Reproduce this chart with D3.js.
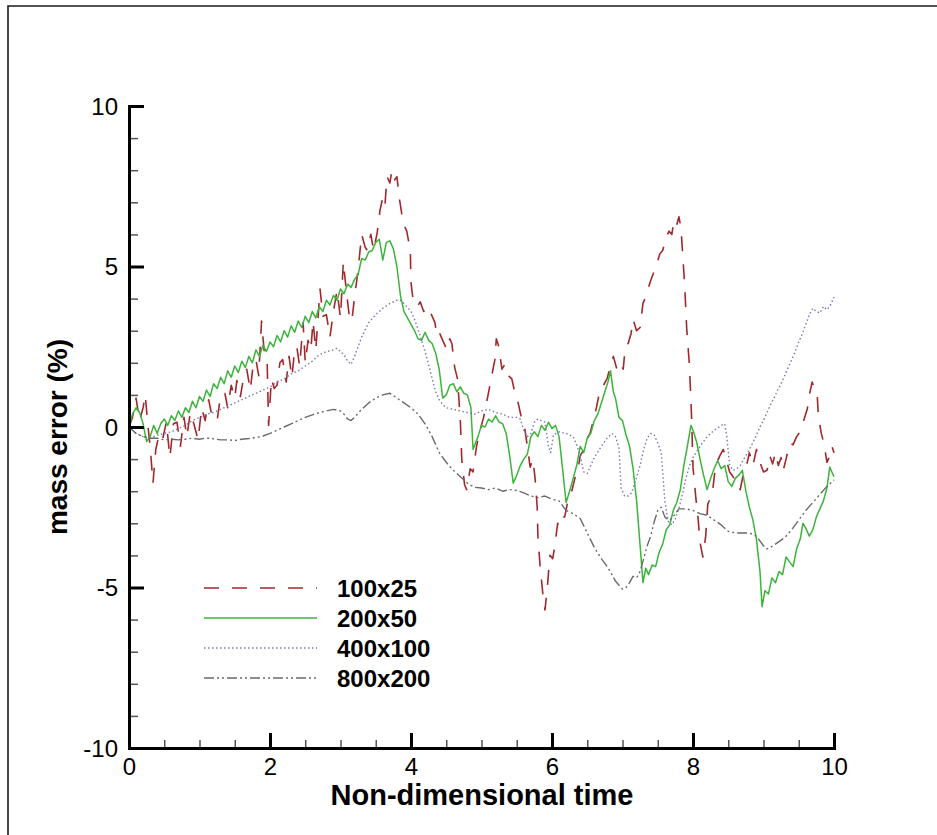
<!DOCTYPE html>
<html><head><meta charset="utf-8">
<script src="https://cdn.jsdelivr.net/npm/d3@7"></script>
<style>body{margin:0;background:#fff}svg{display:block}</style>
</head><body>
<svg id="c" width="937" height="835"></svg>
<script>
// ---------- data ----------
const seriesNames = ["100x25", "200x50", "400x100", "800x200"];
const xTickValues = [0, 2, 4, 6, 8, 10];
const yTickValues = [-10, -5, 0, 5, 10];
const xTitle = "Non-dimensional time";
const yTitle = "mass error (%)";

const s100x25 = [[0,0],[0.05,0.3],[0.1,0.9],[0.15,0.2],[0.2,0.6],[0.23,1.0],[0.27,0.0],[0.3,-0.6],[0.34,-1.75],[0.38,-0.7],[0.43,-0.2],[0.48,-0.35],[0.53,0.15],[0.58,-0.95],[0.63,0.1],[0.68,0.15],[0.73,-0.6],[0.78,0.3],[0.82,-0.3],[0.87,0.45],[0.92,0.1],[0.98,-0.4],[1.03,0.6],[1.08,0.2],[1.13,0.85],[1.18,0.3],[1.25,0.2],[1.3,1.0],[1.36,1.05],[1.4,0.6],[1.45,1.3],[1.5,0.9],[1.53,1.45],[1.58,0.95],[1.63,1.6],[1.67,1.8],[1.72,1.15],[1.76,1.9],[1.8,2.1],[1.84,1.6],[1.88,3.3],[1.92,2.3],[1.96,2.0],[1.98,0.05],[2.02,1.5],[2.06,1.2],[2.1,1.3],[2.14,2.0],[2.18,2.1],[2.23,1.4],[2.27,2.2],[2.31,1.55],[2.35,2.4],[2.38,2.5],[2.42,1.9],[2.47,3.25],[2.5,2.0],[2.54,2.7],[2.58,2.4],[2.61,3.3],[2.65,2.4],[2.71,4.3],[2.75,3.45],[2.8,3.5],[2.85,2.8],[2.9,3.6],[2.95,4.25],[3.0,3.4],[3.04,5.15],[3.08,4.3],[3.13,3.35],[3.16,3.3],[3.2,4.05],[3.25,4.9],[3.3,6.0],[3.35,5.6],[3.38,5.5],[3.43,6.0],[3.47,5.5],[3.52,6.05],[3.56,6.75],[3.6,7.15],[3.63,6.9],[3.66,7.8],[3.7,7.6],[3.73,8.0],[3.77,7.7],[3.8,7.8],[3.84,7.05],[3.89,6.35],[3.94,6.1],[3.99,5.5],[4.0,4.5],[4.03,3.95],[4.09,3.75],[4.13,3.9],[4.18,3.6],[4.24,3.75],[4.29,3.5],[4.34,3.25],[4.37,2.8],[4.41,2.9],[4.45,2.7],[4.51,2.4],[4.55,2.75],[4.58,2.6],[4.62,1.85],[4.66,1.5],[4.7,0.2],[4.72,-1.0],[4.76,-1.8],[4.79,-1.95],[4.84,-1.3],[4.88,-1.4],[4.93,-0.6],[4.98,-0.1],[5.03,0.3],[5.08,0.85],[5.12,1.3],[5.15,1.65],[5.19,2.1],[5.21,2.75],[5.24,2.55],[5.29,1.8],[5.33,1.95],[5.38,1.6],[5.43,1.5],[5.48,1.0],[5.52,0.75],[5.56,0.35],[5.6,0.15],[5.65,-0.6],[5.69,-1.25],[5.73,-1.0],[5.76,-1.6],[5.79,-2.5],[5.8,-3.4],[5.83,-4.3],[5.87,-5.2],[5.9,-5.7],[5.93,-5.1],[5.97,-4.0],[6.01,-4.1],[6.04,-3.7],[6.08,-3.0],[6.11,-3.1],[6.15,-2.8],[6.18,-2.8],[6.23,-2.25],[6.28,-2.0],[6.33,-1.55],[6.37,-1.3],[6.4,-0.9],[6.45,-0.7],[6.5,-0.35],[6.54,-0.2],[6.58,0.15],[6.63,0.6],[6.68,1.15],[6.73,1.3],[6.78,1.5],[6.83,1.9],[6.87,2.2],[6.92,1.8],[6.96,2.0],[7.01,1.8],[7.04,2.5],[7.08,2.6],[7.12,2.9],[7.15,3.35],[7.2,3.0],[7.25,3.1],[7.29,3.85],[7.34,4.1],[7.39,4.5],[7.44,4.8],[7.49,5.1],[7.53,5.4],[7.57,5.5],[7.62,5.9],[7.66,6.1],[7.7,6.0],[7.73,6.45],[7.77,6.3],[7.8,6.55],[7.83,6.2],[7.85,5.5],[7.88,4.5],[7.91,3.1],[7.95,1.9],[7.98,0.3],[8.0,-1.25],[8.04,-2.2],[8.07,-2.8],[8.1,-3.6],[8.14,-4.05],[8.18,-3.4],[8.21,-2.4],[8.25,-2.2],[8.28,-1.95],[8.31,-1.4],[8.34,-1.1],[8.38,-0.9],[8.43,-0.7],[8.47,-1.0],[8.52,-1.4],[8.57,-1.55],[8.62,-1.9],[8.67,-1.95],[8.72,-1.4],[8.77,-1.1],[8.8,-0.8],[8.85,-1.2],[8.9,-0.7],[8.95,-1.1],[9.0,-1.4],[9.05,-1.35],[9.09,-0.9],[9.13,-1.15],[9.17,-0.8],[9.21,-1.2],[9.25,-0.95],[9.28,-1.35],[9.32,-1.0],[9.37,-0.5],[9.42,-0.55],[9.47,-0.3],[9.52,-0.15],[9.57,0.2],[9.62,0.55],[9.66,1.1],[9.69,1.4],[9.72,1.2],[9.76,1.05],[9.78,0.3],[9.82,-0.2],[9.86,-0.55],[9.9,-1.1],[9.94,-0.9],[9.97,-0.6],[10.0,-0.8]];

const s200x50 = [[0,0],[0.05,0.4],[0.1,0.6],[0.15,0.45],[0.2,0.1],[0.25,-0.45],[0.3,-0.3],[0.35,0.05],[0.4,-0.2],[0.45,0.1],[0.5,0.25],[0.55,0.05],[0.6,0.35],[0.65,0.2],[0.7,0.5],[0.75,0.3],[0.8,0.6],[0.85,0.45],[0.9,0.8],[0.95,0.6],[1.0,0.95],[1.05,0.8],[1.1,1.15],[1.15,0.95],[1.2,1.35],[1.25,1.2],[1.3,1.55],[1.35,1.35],[1.4,1.75],[1.45,1.55],[1.5,1.9],[1.55,1.7],[1.6,2.05],[1.65,1.85],[1.7,2.2],[1.75,2.0],[1.8,2.4],[1.85,2.2],[1.9,2.55],[1.95,2.35],[2.0,2.65],[2.05,2.5],[2.1,2.85],[2.15,2.65],[2.2,3.0],[2.25,2.8],[2.3,3.15],[2.35,2.95],[2.4,3.3],[2.45,3.1],[2.5,3.45],[2.55,3.25],[2.6,3.6],[2.65,3.4],[2.7,3.75],[2.75,3.6],[2.8,3.95],[2.85,3.8],[2.9,4.1],[2.95,3.95],[3.0,4.3],[3.05,4.15],[3.1,4.45],[3.15,4.35],[3.2,4.6],[3.25,4.75],[3.3,5.25],[3.35,5.2],[3.4,5.45],[3.45,5.5],[3.5,5.75],[3.55,5.85],[3.6,5.2],[3.65,5.75],[3.7,5.8],[3.75,5.55],[3.8,5.0],[3.85,4.1],[3.9,3.6],[3.95,3.4],[4.0,3.2],[4.05,3.0],[4.1,2.75],[4.15,2.7],[4.2,2.95],[4.25,2.7],[4.3,2.6],[4.35,2.3],[4.4,1.8],[4.45,0.9],[4.5,1.0],[4.55,1.3],[4.6,1.35],[4.65,1.1],[4.7,1.25],[4.75,1.05],[4.8,1.0],[4.85,0.6],[4.88,-0.7],[4.95,-0.3],[5.0,0.05],[5.05,0.0],[5.1,0.25],[5.15,0.15],[5.2,0.35],[5.25,0.15],[5.3,0.1],[5.35,-0.2],[5.4,-0.9],[5.45,-1.75],[5.5,-1.5],[5.55,-1.2],[5.6,-1.0],[5.65,-0.85],[5.7,-0.3],[5.75,-0.15],[5.8,-0.3],[5.85,0.05],[5.9,-0.1],[5.95,0.15],[6.0,-0.05],[6.05,0.05],[6.1,-0.3],[6.15,-1.3],[6.2,-2.35],[6.25,-2.0],[6.3,-1.6],[6.35,-1.2],[6.4,-0.6],[6.45,-0.8],[6.5,-0.35],[6.55,-0.2],[6.6,0.2],[6.65,0.4],[6.7,0.75],[6.75,1.1],[6.8,1.45],[6.83,1.75],[6.87,1.1],[6.9,0.9],[6.95,0.3],[7.0,0.2],[7.05,-0.25],[7.1,-0.6],[7.15,-1.3],[7.2,-2.3],[7.25,-3.7],[7.29,-4.85],[7.33,-4.4],[7.37,-4.6],[7.42,-4.3],[7.47,-4.35],[7.52,-3.9],[7.57,-3.65],[7.62,-3.2],[7.67,-3.05],[7.72,-2.6],[7.77,-2.35],[7.82,-1.95],[7.87,-1.2],[7.92,-0.6],[7.97,0.05],[8.0,-0.1],[8.05,-0.45],[8.1,-1.0],[8.15,-1.5],[8.2,-1.95],[8.25,-1.6],[8.3,-1.3],[8.35,-1.05],[8.4,-1.3],[8.45,-1.2],[8.5,-1.7],[8.55,-1.85],[8.6,-1.6],[8.65,-1.5],[8.7,-1.35],[8.75,-2.0],[8.8,-2.5],[8.85,-2.9],[8.9,-3.5],[8.95,-4.5],[8.98,-5.6],[9.02,-5.1],[9.07,-5.2],[9.12,-4.7],[9.17,-4.85],[9.22,-4.5],[9.27,-4.6],[9.32,-4.05],[9.37,-4.2],[9.42,-4.35],[9.47,-3.8],[9.52,-3.5],[9.56,-3.0],[9.6,-3.15],[9.65,-3.4],[9.7,-3.2],[9.75,-2.8],[9.8,-2.55],[9.85,-2.3],[9.9,-1.9],[9.94,-1.25],[9.97,-1.4],[10.0,-1.55]];

const s400x100 = [[0,0],[0.05,-0.1],[0.1,-0.2],[0.2,-0.3],[0.3,-0.35],[0.4,-0.25],[0.5,-0.2],[0.6,-0.15],[0.7,-0.05],[0.8,0.05],[0.9,0.2],[1.0,0.3],[1.1,0.4],[1.2,0.45],[1.3,0.55],[1.4,0.65],[1.5,0.75],[1.6,0.85],[1.7,0.95],[1.8,1.05],[1.9,1.15],[2.0,1.25],[2.1,1.4],[2.2,1.5],[2.3,1.65],[2.4,1.75],[2.5,1.9],[2.6,2.05],[2.7,2.25],[2.8,2.35],[2.9,2.4],[2.95,2.45],[3.0,2.35],[3.05,2.25],[3.1,2.05],[3.15,1.95],[3.2,2.2],[3.3,2.8],[3.4,3.25],[3.5,3.5],[3.6,3.7],[3.7,3.85],[3.8,3.95],[3.85,3.95],[3.9,3.85],[4.0,3.6],[4.05,3.35],[4.1,3.05],[4.15,2.7],[4.2,2.35],[4.25,1.95],[4.3,1.5],[4.35,1.1],[4.4,0.85],[4.45,0.7],[4.5,0.6],[4.6,0.55],[4.7,0.5],[4.8,0.45],[4.9,0.4],[5.0,0.5],[5.1,0.55],[5.2,0.45],[5.3,0.4],[5.4,0.3],[5.5,0.3],[5.55,0.25],[5.6,-0.1],[5.65,-0.3],[5.7,-0.2],[5.75,0.15],[5.8,0.25],[5.85,0.2],[5.9,0.15],[5.95,-0.6],[5.98,-0.8],[6.02,-0.25],[6.1,-0.15],[6.2,-0.2],[6.3,-0.3],[6.35,-0.55],[6.4,-0.9],[6.45,-1.4],[6.5,-1.45],[6.55,-1.2],[6.6,-0.95],[6.7,-0.6],[6.78,-0.35],[6.85,-0.2],[6.9,-0.3],[6.95,-0.65],[6.98,-1.9],[7.03,-2.15],[7.08,-2.15],[7.13,-2.05],[7.18,-1.7],[7.25,-1.2],[7.3,-0.7],[7.35,-0.35],[7.4,-0.2],[7.45,-0.25],[7.5,-0.5],[7.55,-0.8],[7.6,-2.3],[7.65,-2.95],[7.7,-3.05],[7.75,-2.85],[7.8,-2.55],[7.85,-2.1],[7.9,-1.6],[7.95,-1.2],[8.0,-0.95],[8.1,-0.6],[8.2,-0.3],[8.3,-0.1],[8.4,0.05],[8.45,0.1],[8.48,-0.3],[8.52,-1.2],[8.57,-1.35],[8.62,-1.3],[8.67,-1.2],[8.72,-1.0],[8.8,-0.7],[8.88,-0.35],[8.95,0.0],[9.0,0.2],[9.05,0.45],[9.1,0.7],[9.15,0.9],[9.2,1.15],[9.25,1.35],[9.3,1.6],[9.35,1.85],[9.4,2.1],[9.45,2.35],[9.5,2.65],[9.55,2.9],[9.6,3.2],[9.65,3.5],[9.7,3.7],[9.75,3.6],[9.8,3.55],[9.85,3.75],[9.9,3.65],[9.95,3.8],[10.0,4.05]];

const s800x200 = [[0,0],[0.05,-0.1],[0.1,-0.2],[0.2,-0.3],[0.3,-0.35],[0.4,-0.35],[0.5,-0.4],[0.6,-0.38],[0.7,-0.4],[0.8,-0.38],[0.9,-0.35],[1.0,-0.38],[1.1,-0.34],[1.2,-0.37],[1.3,-0.4],[1.4,-0.4],[1.5,-0.42],[1.6,-0.38],[1.7,-0.36],[1.8,-0.33],[1.9,-0.28],[2.0,-0.2],[2.1,-0.1],[2.2,0.0],[2.3,0.1],[2.4,0.2],[2.5,0.3],[2.6,0.38],[2.7,0.45],[2.8,0.5],[2.9,0.55],[3.0,0.5],[3.05,0.4],[3.1,0.25],[3.15,0.2],[3.2,0.3],[3.3,0.55],[3.4,0.75],[3.5,0.9],[3.6,1.0],[3.7,1.05],[3.75,0.98],[3.8,0.9],[3.9,0.75],[4.0,0.6],[4.1,0.4],[4.2,0.1],[4.3,-0.3],[4.4,-0.8],[4.5,-1.1],[4.6,-1.35],[4.7,-1.55],[4.8,-1.75],[4.9,-1.88],[5.0,-1.9],[5.1,-1.95],[5.2,-1.9],[5.3,-2.0],[5.4,-1.95],[5.5,-1.98],[5.6,-2.05],[5.7,-2.15],[5.8,-2.2],[5.9,-2.15],[6.0,-2.25],[6.1,-2.3],[6.2,-2.6],[6.3,-2.7],[6.4,-2.85],[6.5,-3.3],[6.6,-3.75],[6.7,-4.1],[6.8,-4.4],[6.9,-4.8],[7.0,-5.05],[7.05,-5.0],[7.1,-4.85],[7.15,-4.65],[7.2,-4.7],[7.25,-4.5],[7.3,-4.1],[7.35,-3.7],[7.4,-3.4],[7.45,-2.95],[7.5,-2.6],[7.55,-2.5],[7.6,-2.8],[7.65,-2.9],[7.7,-2.85],[7.8,-2.55],[7.9,-2.55],[8.0,-2.6],[8.1,-2.7],[8.2,-2.75],[8.3,-2.9],[8.4,-3.05],[8.5,-3.25],[8.6,-3.3],[8.7,-3.3],[8.8,-3.3],[8.9,-3.4],[9.0,-3.7],[9.05,-3.8],[9.1,-3.75],[9.2,-3.6],[9.3,-3.45],[9.4,-3.2],[9.5,-2.9],[9.6,-2.6],[9.7,-2.35],[9.8,-2.1],[9.9,-1.85],[10.0,-1.65]];

const seriesData = [s100x25, s200x50, s400x100, s800x200];
const seriesColors = ["#a3282e", "#3cb43c", "#7878b4", "#6a6a6a"];
const seriesDash = ["15,13", null, "1.5,2.5", "10,3,2,3,2,3"];
const seriesWidth = [1.6, 1.5, 1.4, 1.4];

// ---------- chart ----------
const svg = d3.select("#c");
const FONT = "'Liberation Sans', Arial, Helvetica, sans-serif";
const x = d3.scaleLinear().domain([0, 10]).range([129, 834]);
const y = d3.scaleLinear().domain([-10, 10]).range([748, 106]);
const plainNum = d => String(d);

// outer frame (top and left edges)
svg.append("path").attr("d", "M8,835V6H937").attr("fill", "none")
  .attr("stroke", "#1a1a1a").attr("stroke-width", 1.6);

// series
const line = d3.line().x(d => x(d[0])).y(d => y(d[1]));
const gLines = svg.append("g");
seriesData.forEach((data, i) => {
  gLines.append("path").datum(data).attr("d", line)
    .attr("fill", "none").attr("stroke", seriesColors[i])
    .attr("stroke-width", seriesWidth[i])
    .attr("stroke-dasharray", seriesDash[i])
    .attr("stroke-linejoin", "round");
});

// minor ticks
const xMinor = d3.range(0, 10.001, 0.5).filter(v => Math.abs(v % 2) > 1e-6);
const yMinor = d3.range(-10, 10.001, 1).filter(v => Math.abs(v % 5) > 1e-6);
svg.append("g").attr("transform", "translate(0,748)")
  .call(d3.axisBottom(x).tickValues(xMinor).tickSize(-8).tickSizeOuter(0).tickFormat(""))
  .call(g => g.select(".domain").remove())
  .call(g => g.selectAll("line").attr("stroke", "#555").attr("stroke-width", 1.5));
svg.append("g").attr("transform", "translate(129,0)")
  .call(d3.axisLeft(y).tickValues(yMinor).tickSize(-9).tickSizeOuter(0).tickFormat(""))
  .call(g => g.select(".domain").remove())
  .call(g => g.selectAll("line").attr("stroke", "#555").attr("stroke-width", 1.5));

// major axes
const xAxis = svg.append("g").attr("transform", "translate(0,748)")
  .call(d3.axisBottom(x).tickValues(xTickValues).tickSize(-15).tickSizeOuter(0).tickPadding(10).tickFormat(plainNum));
const yAxis = svg.append("g").attr("transform", "translate(129,0)")
  .call(d3.axisLeft(y).tickValues(yTickValues).tickSize(-15).tickSizeOuter(0).tickPadding(11).tickFormat(plainNum));
[xAxis, yAxis].forEach(g => {
  g.select(".domain").attr("stroke", "#000").attr("stroke-width", 3).attr("stroke-linecap", "square");
  g.selectAll(".tick line").attr("stroke", "#000").attr("stroke-width", 3);
  g.selectAll("text").attr("font-family", FONT).attr("font-size", 24).attr("fill", "#000");
});
yAxis.selectAll("text").attr("dy", "0.35em");

// axis titles
svg.append("text").attr("x", 482).attr("y", 805).attr("text-anchor", "middle")
  .attr("font-family", FONT).attr("font-size", 29).attr("font-weight", "bold").text(xTitle);
svg.append("text").attr("transform", "translate(67,437) rotate(-90)").attr("text-anchor", "middle")
  .attr("font-family", FONT).attr("font-size", 28).attr("font-weight", "bold").text(yTitle);

// legend
const legRowY = d3.scalePoint().domain(seriesNames).range([588, 678]);
const leg = svg.append("g");
seriesNames.forEach((name, i) => {
  const ry = legRowY(name);
  leg.append("line").attr("x1", 204).attr("x2", 317).attr("y1", ry).attr("y2", ry)
    .attr("stroke", seriesColors[i]).attr("stroke-width", seriesWidth[i])
    .attr("stroke-dasharray", seriesDash[i]);
  leg.append("text").attr("x", 337).attr("y", ry + 8.5)
    .attr("font-family", FONT).attr("font-size", 24).attr("font-weight", "bold").text(name);
});
</script>
</body></html>
